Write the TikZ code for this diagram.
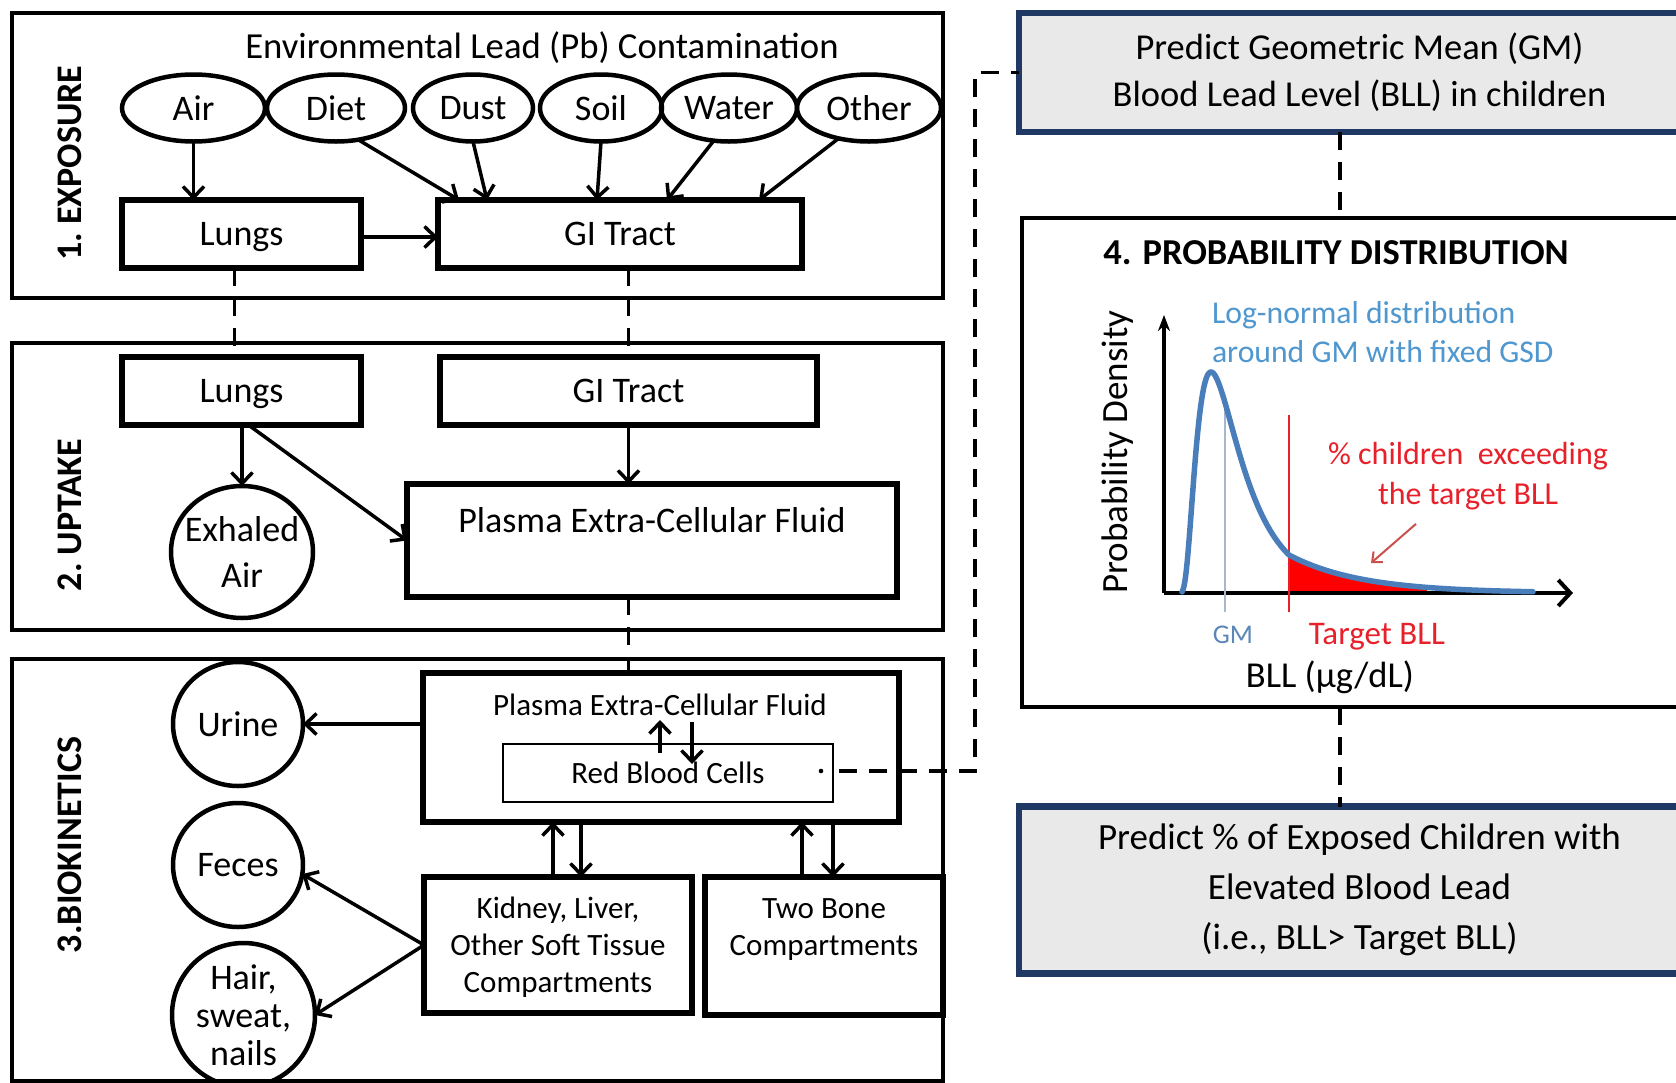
\documentclass[tikz,border=0pt]{standalone}
\usepackage{fontspec}
\setmainfont{Carlito}
\usetikzlibrary{arrows.meta,calc,shapes.geometric}
\definecolor{navy}{HTML}{1F3864}
\definecolor{boxgray}{HTML}{E9E9E9}
\definecolor{curveblue}{HTML}{4A7EBB}
\definecolor{txtblue}{HTML}{4F97CF}
\definecolor{gmblue}{HTML}{5B86B8}
\definecolor{gmline}{HTML}{A8B8CC}
\definecolor{tred}{HTML}{E8202A}
\definecolor{fillred}{HTML}{FF0000}
\definecolor{arrred}{HTML}{C9504D}
\begin{document}
\begin{tikzpicture}[x=1pt,y=-1pt,
  every node/.style={font=\fontsize{36}{43}\selectfont, inner sep=0pt, outer sep=0pt},
  sec/.style={draw, line width=4pt, rectangle},
  box/.style={draw, line width=6pt, rectangle, text depth=0pt},
  oval/.style={draw, line width=4.5pt, ellipse},
  arr/.style={line width=3.5pt, -{Straight Barb[length=11pt,width=21pt]}},
  dline/.style={line width=3.5pt, dash pattern=on 18pt off 12pt},
  sidelab/.style={rotate=90, font=\bfseries\fontsize{36}{43}\selectfont},
  small/.style={font=\fontsize{31}{37}\selectfont},
  navybox/.style={draw=navy, fill=boxgray, line width=6.5pt, rectangle, align=center}
]
\useasboundingbox (0,0) rectangle (1676,1082);
\fill[white] (0,0) rectangle (1676,1082);

% ---------- 1. EXPOSURE ----------
\node[sec, minimum width=931pt, minimum height=285pt] (sec1) at (477.5,155.5) {};
\node[sidelab] (lab1) at (70,163) {1.\hspace{8pt}EXPOSURE};
\node[font=\fontsize{36.7}{43}\selectfont] (env) at (542,48) {Environmental Lead (Pb) Contamination};
\node[oval, minimum width=143pt, minimum height=67pt] (air) at (193.5,108) {Air};
\node[oval, minimum width=138pt, minimum height=67pt] (diet) at (336,108) {Diet};
\node[oval, minimum width=120pt, minimum height=67pt] (dust) at (473,108) {Dust};
\node[oval, minimum width=122pt, minimum height=67pt] (soil) at (601,108) {Soil};
\node[oval, minimum width=136pt, minimum height=67pt] (water) at (729,108) {Water};
\node[oval, minimum width=144pt, minimum height=67pt] (other) at (869,108) {Other};
\node[box, minimum width=239pt, minimum height=68pt] (lung1) at (241.5,234) {Lungs};
\node[box, minimum width=364pt, minimum height=68pt] (gi1) at (620,234) {GI Tract};

\draw[arr] (air.south) -- (air.south |- lung1.north);
\draw[arr] (diet.-55) -- ($(gi1.north west)+(21,0)$);
\draw[arr] (dust.south) -- ($(gi1.north west)+(49,0)$);
\draw[arr] (soil.south) -- ($(gi1.north west)+(159,0)$);
\draw[arr] (water.-115) -- ($(gi1.north west)+(229,0)$);
\draw[arr] (other.-135) -- ($(gi1.north west)+(321,0)$);
\draw[arr] ($(lung1.east)+(0,3)$) -- ($(gi1.west)+(0,3)$);

% ---------- 2. UPTAKE ----------
\node[sec, minimum width=931pt, minimum height=287pt] (sec2) at (477.5,486.5) {};
\node[sidelab] (lab2) at (70,515) {2.\hspace{8pt}UPTAKE};
\node[box, minimum width=239pt, minimum height=68pt] (lung2) at (241.5,391) {Lungs};
\node[box, minimum width=377pt, minimum height=68pt] (gi2) at (628.5,391) {GI Tract};
\node[oval, minimum width=142pt, minimum height=132pt, inner xsep=-12pt, align=center, font=\fontsize{36}{46}\selectfont] (exh) at (242,552) {Exhaled\\Air};
\node[box, minimum width=490pt, minimum height=113pt] (pl2) at (652,540.5) {};
\node (pl2t) at (652,520) {Plasma Extra-Cellular Fluid};

\draw[arr] (lung2.south -| exh.north) -- (exh.north);
\draw[arr] ($(lung2.south)+(7,0)$) -- (pl2.west);
\draw[arr] (gi2.south) -- (gi2.south |- pl2.north);

% ---------- 3. BIOKINETICS ----------
\draw[line width=4pt] (12,659) rectangle (943,1081);
\node[sidelab] (lab3) at (70,845) {3.BIOKINETICS};
\node[box, minimum width=476pt, minimum height=149pt] (pl3) at (661,747.5) {};
\node[small] (pl3t) at (660,705) {Plasma Extra-Cellular Fluid};
\node[draw, line width=2pt, rectangle, minimum width=330pt, minimum height=58pt, small] (rbc) at (668,773) {Red Blood Cells};
\draw[arr] ($(rbc.north)+(-8,9)$) -- ($(rbc.north)+(-8,-24)$);
\draw[arr] ($(rbc.north)+(24,-22)$) -- ($(rbc.north)+(24,20)$);

\node[oval, minimum width=130pt, minimum height=124pt] (urine) at (238,724) {Urine};
\node[oval, minimum width=130pt, minimum height=124pt] (feces) at (238,865) {Feces};
\node[oval, minimum width=143pt, minimum height=144pt, inner ysep=-10pt, inner xsep=-6pt, align=center, font=\fontsize{36}{38}\selectfont] (hair) at (243.5,1015) {Hair,\\sweat,\\nails};
\node[box, minimum width=268pt, minimum height=136pt, align=center, small] (kid) at (558,945) {Kidney, Liver,\\Other Soft Tissue\\Compartments};
\node[box, minimum width=238pt, minimum height=138pt, align=center, small] (bone) at (824,946) {Two Bone\\Compartments\\~};

\draw[arr] (urine.east -| pl3.west) -- (urine.east);
\draw[arr] (553,0 |- kid.north) -- (553,0 |- pl3.south);
\draw[arr] (581,0 |- pl3.south) -- (581,0 |- kid.north);
\draw[arr] (802,0 |- bone.north) -- (802,0 |- pl3.south);
\draw[arr] (833,0 |- pl3.south) -- (833,0 |- bone.north);
\draw[arr] (kid.west) -- (feces.-8);
\draw[arr] (kid.west) -- (hair.east);

% ---------- dashed links between sections ----------
\draw[dline] ($(lung1.south)+(-7,0)$) -- ($(lung2.north)+(-7,0)$);
\draw[dline] (gi1.south -| gi2.north) -- (gi2.north);
\draw[dline] (pl2.south -| gi2.south) -- (gi2.south |- pl3.north);

% ---------- right panel ----------
\node[navybox, minimum width=681pt, minimum height=119pt, font=\fontsize{36.5}{47}\selectfont] (gmbox) at (1359.5,72.5) {Predict Geometric Mean (GM)\\Blood Lead Level (BLL) in children};
\node[sec, minimum width=678pt, minimum height=489pt] (prob) at (1361,462.5) {};
\node[font=\bfseries\fontsize{36.5}{42}\selectfont] (probt) at (1336,253) {4. PROBABILITY DISTRIBUTION};
\node[navybox, minimum width=681pt, minimum height=167pt, font=\fontsize{37}{50}\selectfont] (pct) at (1359.5,890) {Predict \% of Exposed Children with\\Elevated Blood Lead\\(i.e., BLL> Target BLL)};

\coordinate (vx) at (1340,0);
\draw[dline] (gmbox.south -| vx) -- (prob.north -| vx);
\draw[dline] (prob.south -| vx) -- (pct.north -| vx);
\coordinate (jn) at (975,72.5);
\fill ($(rbc.east)+(-12,-2)$) circle (2.3pt);
\draw[dline] ($(rbc.east)+(6,-2)$) -| (jn) -- (gmbox.west);

% ---------- chart ----------
\coordinate (O) at (1164,593);
\coordinate (xend) at (1573,593);
\coordinate (yend) at (1164,315);
\fill[fillred] (1289,593) -- plot[domain=111:249,samples=50] ({1178+\x},{595-38*exp(-(\x-111)/72)}) -- (1427,593) -- cycle;
\draw[line width=4pt, -{Straight Barb[length=12pt,width=26pt]}] (O) -- (xend);
\draw[line width=4pt, -{Stealth[length=16pt,width=12pt]}] (O) -- (yend);
\draw[gmline, line width=2pt] (1225,405) -- (1225,612);
\draw[tred, line width=1.5pt] (1289,415) -- (1289,612);
\draw[curveblue, line width=5.5pt, line cap=round, line join=round]
  plot[domain=4:111,samples=120] ({1178+\x},{593-221*exp(-pow(ln(\x/33),2)/0.836)})
  -- plot[domain=111:355,samples=60] ({1178+\x},{593-38*exp(-(\x-111)/72)});

\node[font=\fontsize{37}{43}\selectfont, rotate=90] (ylab) at (1118,452) {Probability Density};
\node[anchor=west, align=left, text=txtblue, font=\fontsize{31.7}{39}\selectfont] (lognote) at (1212,332) {Log-normal distribution\\around GM with fixed GSD};
\node[align=center, text=tred, font=\fontsize{32}{40}\selectfont] (pctnote) at (1468,476) {\% children\ \ exceeding\\the target BLL};
\coordinate (redtip) at (1371,563);
\draw[arrred, line width=2pt, -{Straight Barb[length=8pt,width=14pt]}] ($(pctnote.south)+(-52,14)$) -- (redtip);
\node[text=gmblue, font=\fontsize{27}{30}\selectfont] (gml) at (1233,635) {GM};
\node[text=tred, font=\fontsize{33}{38}\selectfont] (tbl) at (1377,637) {Target BLL};
\node[font=\fontsize{36.5}{42}\selectfont] (xlab) at (1330,677) {BLL (µg/dL)};
\end{tikzpicture}
\end{document}
